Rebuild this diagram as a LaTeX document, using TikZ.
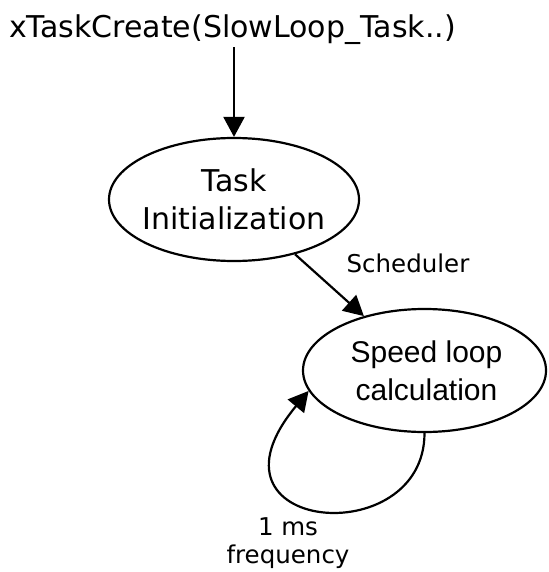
\documentclass[tikz,border=0pt]{standalone}
\usepackage{fontspec}
\usetikzlibrary{shapes.geometric,arrows.meta}
\newfontfamily\dvfont{DejaVu Sans}
\newfontfamily\libfont{Liberation Sans}
\tikzset{
  stateshape/.style={draw, ellipse, line width=2.2pt, inner sep=0pt},
  txt/.style={inner sep=0pt, align=center},
  arr/.style={line width=2.2pt, -{Triangle[length=20pt,width=21pt]}},
}
\begin{document}
\begin{tikzpicture}[x=1pt,y=1pt]
\useasboundingbox (0,0) rectangle (548,-572);
% top label
\node[anchor=base, inner sep=0pt, outer sep=0pt,
  font=\dvfont\fontsize{30}{35}\selectfont] (top) at (232.5,-37.5)
  {xTaskCreate(SlowLoop\_Task..)};
% states
\node[stateshape, minimum width=250pt, minimum height=123pt] (init) at (234,-199.5) {};
\node[txt, font=\dvfont\fontsize{30}{38}\selectfont] (initT) at (init) {Task\\Initialization};
\node[stateshape, minimum width=243pt, minimum height=123pt] (speed) at (424.5,-370.5) {};
\node[txt, font=\libfont\fontsize{30}{38}\selectfont] (speedT) at (426.5,-370.5) {Speed loop\\calculation};
% labels
\node[anchor=base, inner sep=0pt, font=\dvfont\fontsize{24.5}{28}\selectfont] (sched) at (408,-272) {Scheduler};
\node[txt, font=\dvfont\fontsize{24.5}{28}\selectfont] (freq) at (288,-543) {1 ms\\frequency};
% connectors
\coordinate (topout) at ([yshift=-10pt]top.base -| init.north);
\draw[arr] (topout) -- (init.north);
\draw[arr] (init) -- (speed);
\draw[arr] (speed.south) .. controls +(0,-120) and +(-118,-142) .. (speed.190);
\end{tikzpicture}
\end{document}
